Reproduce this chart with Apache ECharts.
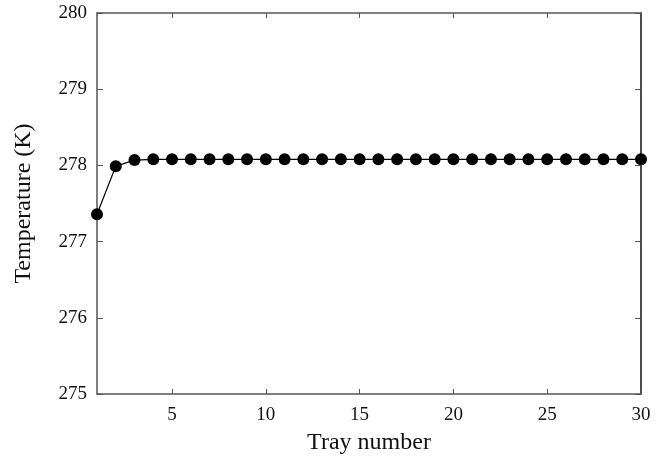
<!DOCTYPE html>
<html>
<head>
<meta charset="utf-8">
<script src="https://cdn.jsdelivr.net/npm/echarts@6/dist/echarts.min.js"></script>
<style>
  html, body { margin: 0; padding: 0; background: #fff; }
  #chart { width: 665px; height: 461px; }
</style>
</head>
<body>
<div id="chart"></div>
<script>
// tray number 1..30
const trays = [1,2,3,4,5,6,7,8,9,10,11,12,13,14,15,16,17,18,19,20,21,22,23,24,25,26,27,28,29,30];
const temps = [277.36, 277.99, 278.07, 278.08, 278.08, 278.08, 278.08, 278.08, 278.08, 278.08,
               278.08, 278.08, 278.08, 278.08, 278.08, 278.08, 278.08, 278.08, 278.08, 278.08,
               278.08, 278.08, 278.08, 278.08, 278.08, 278.08, 278.08, 278.08, 278.08, 278.08];
const xTicks = [5, 10, 15, 20, 25, 30];

const font = 'Liberation Serif';
const axisColor = '#555';

const chart = echarts.init(document.getElementById('chart'));

const baseX = {
  type: 'value',
  min: 1,
  max: 30,
  axisLine: { show: true, lineStyle: { color: axisColor, width: 1.5 } },
  splitLine: { show: false }
};
const baseY = {
  type: 'value',
  min: 275,
  max: 280,
  interval: 1,
  axisLine: { show: true, lineStyle: { color: axisColor, width: 1.5 } },
  splitLine: { show: false }
};

chart.setOption({
  animation: false,
  grid: { left: 97, right: 24, top: 13, bottom: 67 },
  xAxis: [
    Object.assign({}, baseX, {
      position: 'bottom',
      name: 'Tray number',
      nameLocation: 'middle',
      nameGap: 37,
      nameTextStyle: { fontFamily: font, fontSize: 24, color: '#111' },
      axisTick: { show: true, inside: true, length: 5, customValues: xTicks, lineStyle: { color: axisColor } },
      axisLabel: { customValues: xTicks, fontFamily: font, fontSize: 19, color: '#111', margin: 12 }
    }),
    Object.assign({}, baseX, {
      position: 'top',
      axisTick: { show: true, inside: true, length: 5, customValues: xTicks, lineStyle: { color: axisColor } },
      axisLabel: { show: false }
    })
  ],
  yAxis: [
    Object.assign({}, baseY, {
      position: 'left',
      name: 'Temperature (K)',
      nameLocation: 'middle',
      nameGap: 61,
      nameTextStyle: { fontFamily: font, fontSize: 24, color: '#111' },
      axisTick: { show: true, inside: true, length: 6, lineStyle: { color: axisColor } },
      axisLabel: { fontFamily: font, fontSize: 19, color: '#111', margin: 10 }
    }),
    Object.assign({}, baseY, {
      position: 'right',
      axisLine: { show: true, lineStyle: { color: '#111', width: 1.5 } },
      axisTick: { show: true, inside: true, length: 6, lineStyle: { color: axisColor } },
      axisLabel: { show: false }
    })
  ],
  series: [{
    type: 'line',
    data: trays.map((t, i) => [t, temps[i]]),
    symbol: 'circle',
    symbolSize: 12,
    clip: false,
    lineStyle: { color: '#000', width: 1.2 },
    itemStyle: { color: '#000' }
  }]
});
</script>
</body>
</html>
